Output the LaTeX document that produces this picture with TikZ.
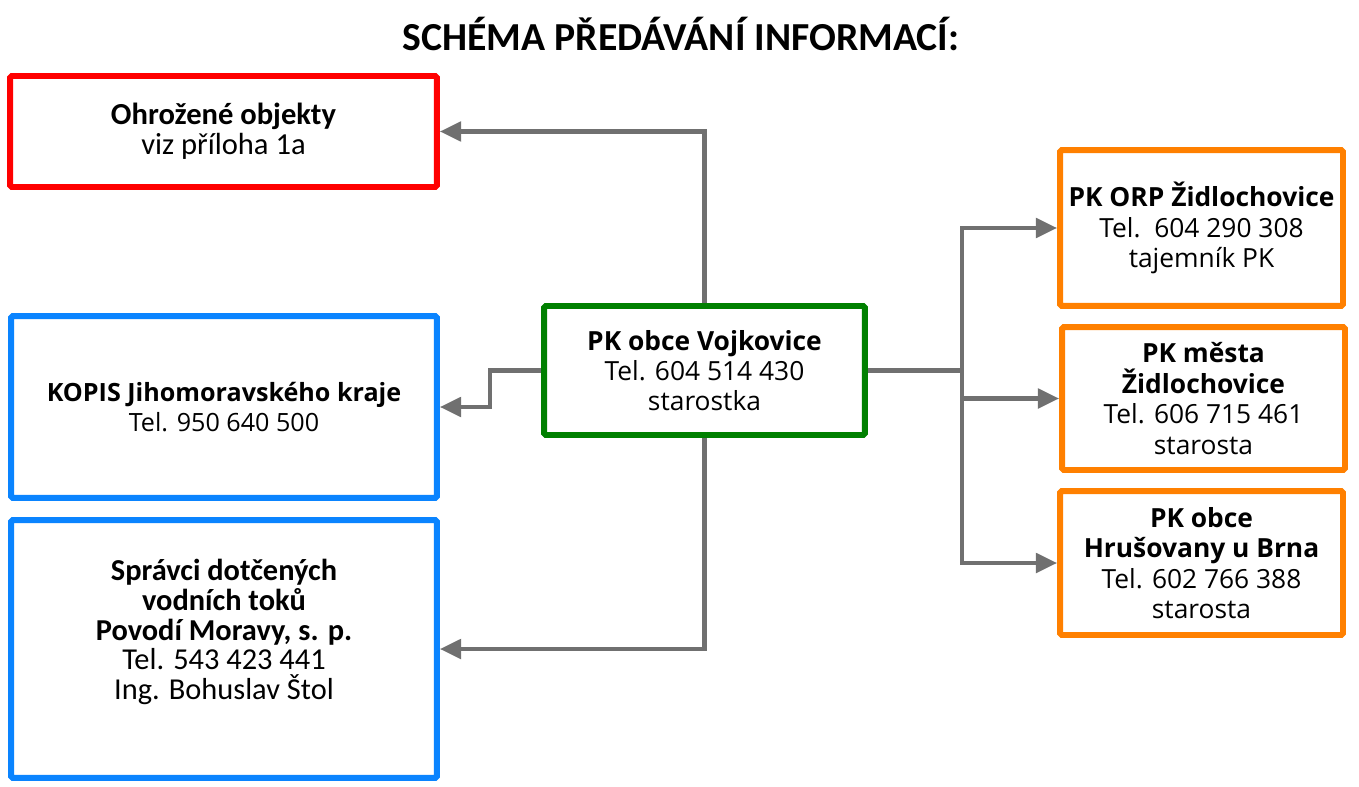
\documentclass[tikz,border=0pt]{standalone}
\usepackage{fontspec}
\setmainfont{Open Sans}
\newfontfamily\calibri{Carlito}
\usetikzlibrary{arrows.meta}
\definecolor{linegray}{RGB}{112,112,112}
\definecolor{boxred}{RGB}{255,0,0}
\definecolor{boxblue}{RGB}{10,132,255}
\definecolor{boxgreen}{RGB}{0,128,0}
\definecolor{boxorange}{RGB}{255,128,0}
\begin{document}
\begin{tikzpicture}[x=0.02cm, y=-0.02cm,
    box/.style={rectangle, draw, line width=3.4pt, rounded corners=1pt, fill=white, align=center, inner sep=0pt},
    redbox/.style={box, draw=boxred, minimum width=8.54cm, minimum height=2.22cm, font=\calibri\fontsize{17.4}{17}\selectfont},
    bluebox/.style={box, draw=boxblue, minimum width=8.52cm, font=\fontsize{14.3}{17}\selectfont},
    greenbox/.style={box, draw=boxgreen, minimum width=6.42cm, minimum height=2.58cm, font=\fontsize{15}{17}\selectfont},
    orangebox/.style={box, draw=boxorange, minimum width=5.66cm, font=\fontsize{15}{17.3}\selectfont},
    line/.style={draw=linegray, line width=2.3pt},
    arrow/.style={line, -{Triangle[length=12pt, width=11pt]}}
]
    \useasboundingbox (0,0) rectangle (1359,787);

    % Title
    \node (title) at (681,34) {\calibri\fontsize{22.6}{26}\selectfont\textbf{SCHÉMA PŘEDÁVÁNÍ INFORMACÍ:}};

    % Central: PK obce Vojkovice
    \node[greenbox] (pk) at (704.5,370.5) {\textbf{PK obce Vojkovice}\\Tel. 604 514 430\\starostka};

    % Left column
    \node[redbox] (ohrozene) at (223.5,131.5) {\textbf{Ohrožené objekty}\\viz příloha 1a};
    \node[bluebox, minimum height=3.64cm] (kopis) at (224,407) {\textbf{KOPIS Jihomoravského kraje}\\Tel. 950 640 500};
    \node[bluebox, minimum height=5.16cm] (spravci) at (224,649) {};
    \node[align=center, font=\calibri\fontsize{17.3}{17}\selectfont] (spravcitext) at (224,632)
        {\textbf{Správci dotčených}\\\textbf{vodních toků}\\\textbf{Povodí Moravy, s. p.}\\Tel. 543 423 441\\Ing. Bohuslav Štol};

    % Right column
    \node[orangebox, minimum height=3.12cm] (orp) at (1201.5,228) {\textbf{PK ORP Židlochovice}\\Tel.\ \ 604 290 308\\tajemník PK};
    \node[orangebox, minimum height=2.86cm] (mesto) at (1203.5,398.5) {\textbf{PK města}\\\textbf{Židlochovice}\\Tel. 606 715 461\\starosta};
    \node[orangebox, minimum height=2.88cm] (hrusovany) at (1201.5,563) {\textbf{PK obce}\\\textbf{Hrušovany u Brna}\\Tel. 602 766 388\\starosta};

    % Arrows to the left
    \draw[arrow] (pk.north) |- (ohrozene.east);
    \draw[arrow] (pk.west) -- ++(-51,0) |- (kopis.east);
    \draw[arrow] (pk.south) |- (spravci.east);

    % Arrows to the right
    \draw[line] (pk.east) -- ++(94,0) coordinate (hub);
    \draw[arrow] (hub) |- (orp.west);
    \draw[arrow] (hub |- mesto.west) -- (mesto.west);
    \draw[arrow] (hub) |- (hrusovany.west);
\end{tikzpicture}
\end{document}
